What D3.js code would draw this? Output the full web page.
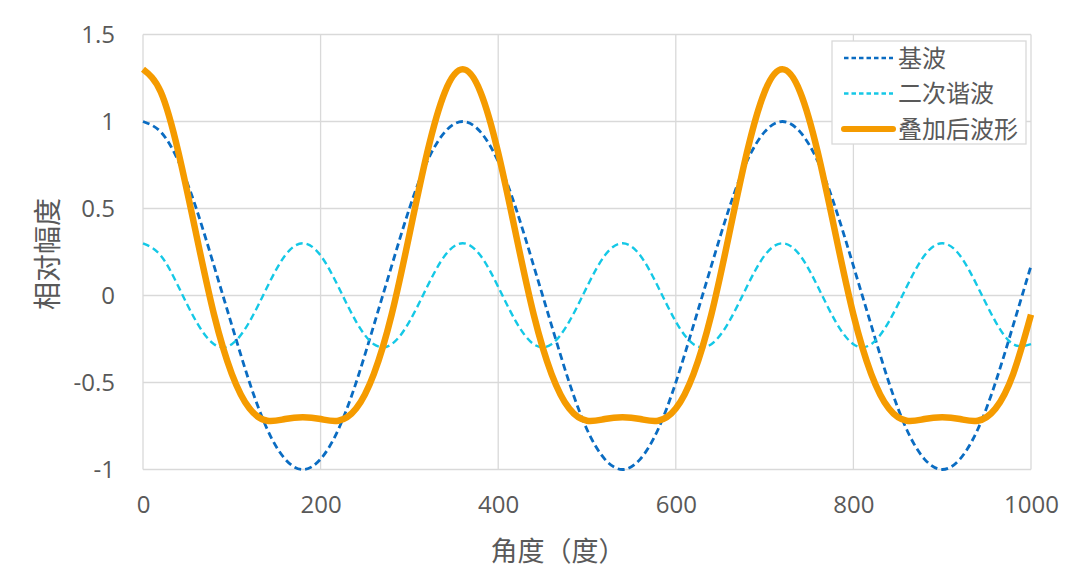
<!DOCTYPE html>
<html>
<head>
<meta charset="utf-8">
<script src="https://cdn.jsdelivr.net/npm/d3@7/dist/d3.min.js"></script>
<style>
  html, body { margin: 0; padding: 0; background: #fff; }
  text { font-family: "Open Sans", "Noto Sans CJK SC", sans-serif; fill: #595959; }
</style>
</head>
<body>
<div id="chart"></div>
<script>
// angle samples (deg), every 20 degrees
const angles = [0,20,40,60,80,100,120,140,160,180,200,220,240,260,280,300,320,340,
  360,380,400,420,440,460,480,500,520,540,560,580,600,620,640,660,680,700,
  720,740,760,780,800,820,840,860,880,900,920,940,960,980,1000];

const baseWave = [1,0.94,0.77,0.5,0.17,-0.17,-0.5,-0.77,-0.94,-1,-0.94,-0.77,-0.5,-0.17,0.17,0.5,0.77,0.94,
  1,0.94,0.77,0.5,0.17,-0.17,-0.5,-0.77,-0.94,-1,-0.94,-0.77,-0.5,-0.17,0.17,0.5,0.77,0.94,
  1,0.94,0.77,0.5,0.17,-0.17,-0.5,-0.77,-0.94,-1,-0.94,-0.77,-0.5,-0.17,0.17];

const secondWave = [0.3,0.23,0.05,-0.15,-0.28,-0.28,-0.15,0.05,0.23,
  0.3,0.23,0.05,-0.15,-0.28,-0.28,-0.15,0.05,0.23,
  0.3,0.23,0.05,-0.15,-0.28,-0.28,-0.15,0.05,0.23,
  0.3,0.23,0.05,-0.15,-0.28,-0.28,-0.15,0.05,0.23,
  0.3,0.23,0.05,-0.15,-0.28,-0.28,-0.15,0.05,0.23,
  0.3,0.23,0.05,-0.15,-0.28,-0.28];

const sumWave = [1.3,1.17,0.82,0.35,-0.11,-0.45,-0.65,-0.72,-0.71,-0.7,-0.71,-0.72,-0.65,-0.45,-0.11,0.35,0.82,1.17,
  1.3,1.17,0.82,0.35,-0.11,-0.45,-0.65,-0.72,-0.71,-0.7,-0.71,-0.72,-0.65,-0.45,-0.11,0.35,0.82,1.17,
  1.3,1.17,0.82,0.35,-0.11,-0.45,-0.65,-0.72,-0.71,-0.7,-0.71,-0.72,-0.65,-0.45,-0.11];

const xTicks = [0,200,400,600,800,1000];
const yTicks = [-1,-0.5,0,0.5,1,1.5];
const seriesNames = ["基波","二次谐波","叠加后波形"];

const width = 1080, height = 568;
const margin = {top: 34.5, right: 49, bottom: 98.5, left: 143};
const w = width - margin.left - margin.right,
      h = height - margin.top - margin.bottom;

const svg = d3.select("#chart").append("svg")
  .attr("width", width).attr("height", height);
const g = svg.append("g")
  .attr("transform", "translate(" + margin.left + "," + margin.top + ")");

const x = d3.scaleLinear().domain([0, 1000]).range([0, w]);
const y = d3.scaleLinear().domain([-1, 1.5]).range([h, 0]);

// gridlines
g.append("g").selectAll("line").data(yTicks).enter().append("line")
  .attr("x1", 0).attr("x2", w)
  .attr("y1", d => y(d)).attr("y2", d => y(d))
  .attr("stroke", "#d9d9d9").attr("stroke-width", 1.3);
g.append("g").selectAll("line").data(xTicks).enter().append("line")
  .attr("x1", d => x(d)).attr("x2", d => x(d))
  .attr("y1", 0).attr("y2", h)
  .attr("stroke", "#d9d9d9").attr("stroke-width", 1.3);

// axes (labels only)
const xAxis = g.append("g").attr("transform", "translate(0," + h + ")")
  .call(d3.axisBottom(x).tickValues(xTicks).tickSize(0).tickPadding(26).tickFormat(d3.format("d")));
const yAxis = g.append("g")
  .call(d3.axisLeft(y).tickValues(yTicks).tickSize(0).tickPadding(28).tickFormat(d => String(d)));
[xAxis, yAxis].forEach(a => {
  a.select(".domain").remove();
  a.selectAll("text").style("font-size", "24px").attr("fill", "#595959")
    .style("font-family", "'Open Sans', sans-serif");
});

// series
const line = d3.line().curve(d3.curveNatural);
const series = [
  {name: seriesNames[0], vals: baseWave, color: "#0a6cc2", width: 2.8, dash: "7,4"},
  {name: seriesNames[1], vals: secondWave, color: "#14c8e6", width: 2.4, dash: "7,4"},
  {name: seriesNames[2], vals: sumWave, color: "#f59b00", width: 6.5, dash: null}
];
series.forEach(s => {
  g.append("path")
    .attr("d", line(angles.map((a, i) => [x(a), y(s.vals[i])])))
    .attr("fill", "none")
    .attr("stroke", s.color)
    .attr("stroke-width", s.width)
    .attr("stroke-dasharray", s.dash);
});

// axis titles
svg.append("text")
  .attr("x", 558).attr("y", 561)
  .attr("text-anchor", "middle")
  .style("font-size", "27px")
  .text("角度（度）");
svg.append("text")
  .attr("transform", "translate(58,254) rotate(-90)")
  .attr("text-anchor", "middle")
  .style("font-size", "28px")
  .text("相对幅度");

// legend
const lg = svg.append("g").attr("transform", "translate(832,41)");
lg.append("rect")
  .attr("width", 194).attr("height", 103)
  .attr("fill", "#fff").attr("stroke", "#d9d9d9").attr("stroke-width", 1.3);
series.forEach((s, i) => {
  const cy = 17 + i * 35.5;
  lg.append("line")
    .attr("x1", 12).attr("x2", 61).attr("y1", cy).attr("y2", cy)
    .attr("stroke", s.color)
    .attr("stroke-width", s.dash ? 2.6 : 6)
    .attr("stroke-linecap", s.dash ? "butt" : "round")
    .attr("stroke-dasharray", s.dash ? "4.5,3" : null);
  lg.append("text")
    .attr("x", 66).attr("y", cy + 8.5)
    .style("font-size", "24px")
    .text(s.name);
});
</script>
</body>
</html>
